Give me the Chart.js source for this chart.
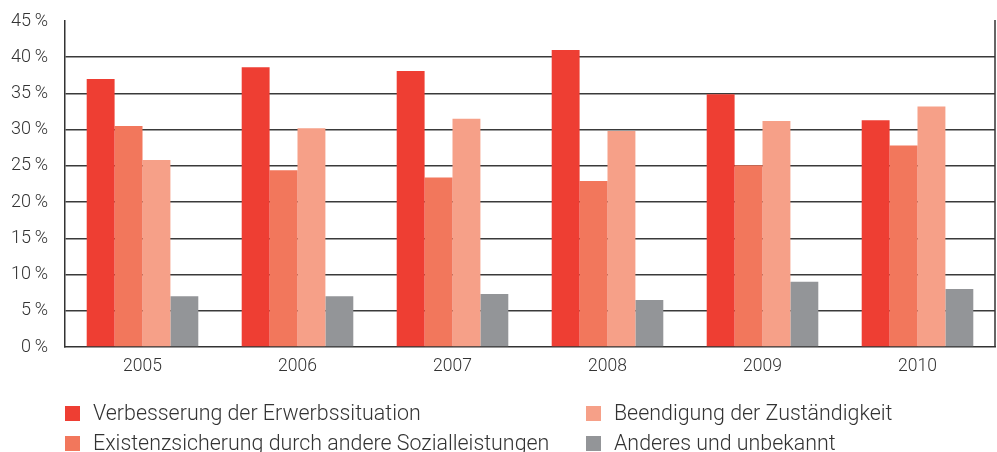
<!DOCTYPE html>
<html>
<head>
<meta charset="utf-8">
<script src="https://cdn.jsdelivr.net/npm/chart.js@4"></script>
<style>
  html, body { margin: 0; padding: 0; background: #fff; }
  body { width: 997px; height: 452px; position: relative; overflow: hidden; font-family: Roboto, "Liberation Sans", sans-serif; font-weight: 300; }
  #wrap { position: absolute; left: 0; top: 0; width: 997px; height: 380px; }
  #legend { position: absolute; left: 0; top: 0; width: 997px; height: 452px; pointer-events: none; }
  .item { position: absolute; display: flex; align-items: center; font-size: 21.4px; line-height: 26px; color: #333; white-space: nowrap; }
  .sw { width: 15px; height: 15px; margin-right: 13px; flex: none; }
</style>
</head>
<body>
<div id="wrap"><canvas id="c" width="997" height="380"></canvas></div>
<div id="legend"></div>
<script>
const categories = ["2005", "2006", "2007", "2008", "2009", "2010"];
const seriesNames = [
  "Verbesserung der Erwerbssituation",
  "Existenzsicherung durch andere Sozialleistungen",
  "Beendigung der Zuständigkeit",
  "Anderes und unbekannt"
];
const verbesserung = [37.0, 38.6, 38.1, 41.0, 34.9, 31.3];
const existenzsicherung = [30.5, 24.4, 23.4, 22.9, 25.1, 27.8];
const beendigung = [25.8, 30.2, 31.5, 29.8, 31.2, 33.2];
const anderes = [7.0, 7.0, 7.3, 6.5, 9.0, 8.0];
const yTicks = [0, 5, 10, 15, 20, 25, 30, 35, 40, 45];
const colors = ["#EE3E33", "#F2775C", "#F6A088", "#939598"];

const seriesValues = [verbesserung, existenzsicherung, beendigung, anderes];
const datasets = seriesValues.map((vals, i) => ({
  label: seriesNames[i],
  data: vals,
  backgroundColor: colors[i],
  borderWidth: 0,
  categoryPercentage: 0.72,
  barPercentage: 1.0
}));

const rightBorder = {
  id: "rightBorder",
  afterDraw(chart) {
    const { ctx, chartArea } = chart;
    const y = chart.scales.y;
    ctx.save();
    ctx.strokeStyle = "#333";
    ctx.lineWidth = 1.5;
    ctx.beginPath();
    ctx.moveTo(chartArea.right, y.getPixelForValue(45) - 1);
    ctx.lineTo(chartArea.right, chartArea.bottom);
    ctx.stroke();
    ctx.restore();
  }
};

const tickFont = { family: "Roboto, 'Liberation Sans', sans-serif", size: 18, weight: 300 };

new Chart(document.getElementById("c"), {
  type: "bar",
  data: { labels: categories, datasets },
  options: {
    responsive: false,
    animation: false,
    layout: { padding: { top: 21, right: 2, left: 0, bottom: 0 } },
    plugins: { legend: { display: false }, tooltip: { enabled: false } },
    scales: {
      x: {
        grid: { display: false },
        border: { display: true, color: "#333", width: 1.5 },
        ticks: { color: "#333", font: { ...tickFont, size: 17.5 }, padding: 1 },
        afterFit(scale) { scale.height = 33; }
      },
      y: {
        min: 0, max: 45,
        afterBuildTicks(scale) { scale.ticks = yTicks.map(v => ({ value: v })); },
        grid: {
          color: ctx => (ctx.tick && (ctx.tick.value === 45 || ctx.tick.value === 0)) ? "rgba(0,0,0,0)" : "#3a3a3a",
          lineWidth: 1.6,
          drawTicks: false
        },
        border: { display: true, color: "#333", width: 1.5 },
        ticks: {
          color: "#333",
          font: tickFont,
          padding: 17,
          callback: v => v + "\u2009%"
        },
        afterFit(scale) { scale.width = 65; scale.paddingTop = 0; scale.paddingBottom = 0; }
      }
    }
  },
  plugins: [rightBorder]
});

// HTML legend, two columns, column-wise order
const legend = document.getElementById("legend");
const legendPos = [
  { left: 65, top: 400 },
  { left: 65, top: 430 },
  { left: 586, top: 400 },
  { left: 586, top: 430 }
];
seriesNames.forEach((name, i) => {
  const d = document.createElement("div");
  d.className = "item";
  d.style.left = legendPos[i].left + "px";
  d.style.top = legendPos[i].top + "px";
  const sw = document.createElement("span");
  sw.className = "sw";
  sw.style.background = colors[i];
  const t = document.createElement("span");
  t.textContent = name;
  d.appendChild(sw);
  d.appendChild(t);
  legend.appendChild(d);
});
</script>
</body>
</html>
